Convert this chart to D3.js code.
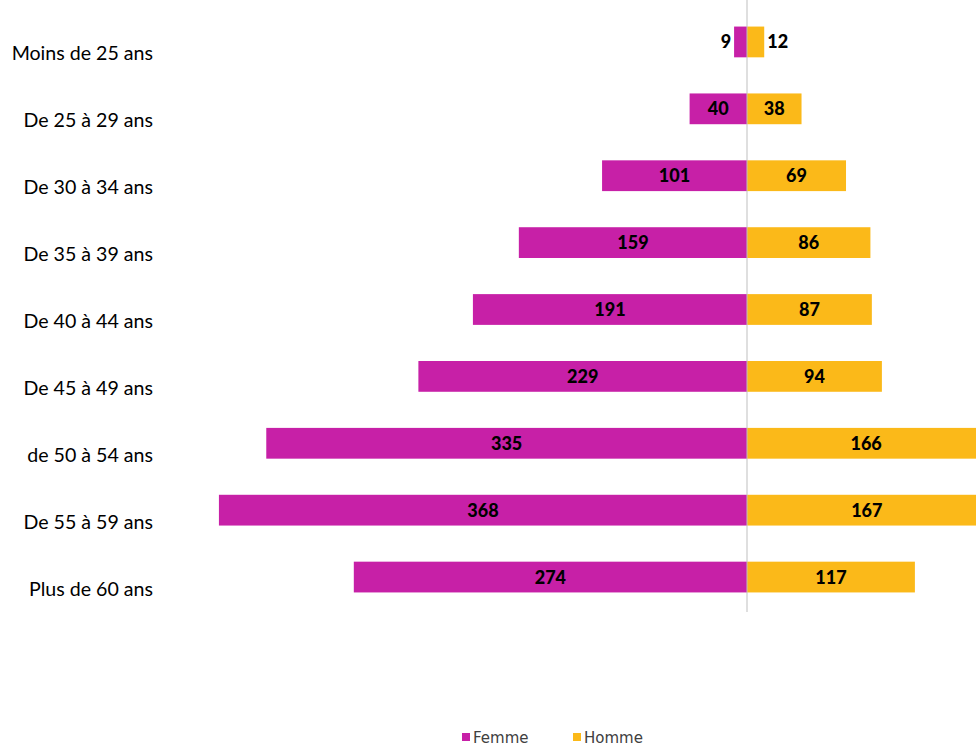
<!DOCTYPE html>
<meta charset="utf-8" />
<style>
  body { margin: 0; background: #fff; }
  .cat { font-family: Lato, "Liberation Sans", sans-serif; font-size: 19.6px; fill: #000; }
  .val { font-family: Lato, "Liberation Sans", sans-serif; font-size: 18px; font-weight: 900; fill: #000; }
  .leg { font-family: "DejaVu Sans", sans-serif; font-size: 15px; fill: #404040; }
</style>
<body>
<script src="https://d3js.org/d3.v7.min.js"></script>
<script>

// data
var categories = ["Moins de 25 ans", "De 25 à 29 ans", "De 30 à 34 ans", "De 35 à 39 ans",
  "De 40 à 44 ans", "De 45 à 49 ans", "de 50 à 54 ans", "De 55 à 59 ans", "Plus de 60 ans"];
var femme = [9, 40, 101, 159, 191, 229, 335, 368, 274];
var homme = [12, 38, 69, 86, 87, 94, 166, 167, 117];
var seriesNames = ["Femme", "Homme"];
var colors = ["#C720A7", "#FBB919"];

var width = 976, height = 745;

var svg = d3.select("body").append("svg")
    .attr("width", width)
    .attr("height", height);

// scales
var x = d3.scaleLinear().domain([-400, 200]).range([173, 1034]);
var y = d3.scaleBand().domain(categories)
    .range([8.5, 610.5])
    .paddingInner(0.54)
    .paddingOuter(0.27);

var rows = categories.map(function(c, i) {
  return {cat: c, f: femme[i], h: homme[i]};
});

// femme bars (left)
svg.selectAll(".bf").data(rows).enter().append("rect")
    .attr("x", function(d) { return x(-d.f); })
    .attr("y", function(d) { return y(d.cat); })
    .attr("width", function(d) { return x(0) - x(-d.f); })
    .attr("height", y.bandwidth())
    .attr("fill", colors[0]);

// homme bars (right)
svg.selectAll(".bh").data(rows).enter().append("rect")
    .attr("x", x(0))
    .attr("y", function(d) { return y(d.cat); })
    .attr("width", function(d) { return x(d.h) - x(0); })
    .attr("height", y.bandwidth())
    .attr("fill", colors[1]);

// center axis
svg.append("line")
    .attr("x1", x(0)).attr("x2", x(0))
    .attr("y1", 0).attr("y2", 612)
    .attr("stroke", "#BFBFBF")
    .attr("stroke-width", 1);

// value labels
function addLabels(key, sign) {
  svg.selectAll(".l" + key).data(rows).enter().append("text")
      .attr("class", "val")
      .attr("dy", "0.36em")
      .attr("y", function(d) { return y(d.cat) + y.bandwidth() / 2; })
      .attr("x", function(d) {
        var w = Math.abs(x(sign * d[key]) - x(0));
        if (w < 30) return x(sign * d[key]) + sign * 3;
        return (x(sign * d[key]) + x(0)) / 2;
      })
      .attr("text-anchor", function(d) {
        var w = Math.abs(x(sign * d[key]) - x(0));
        if (w < 30) return sign < 0 ? "end" : "start";
        return "middle";
      })
      .text(function(d) { return d[key]; });
}
addLabels("f", -1);
addLabels("h", 1);

// category labels
svg.selectAll(".cat").data(categories).enter().append("text")
    .attr("class", "cat")
    .attr("x", 153)
    .attr("y", function(d) { return y(d) + y.bandwidth() / 2 + 18.5; })
    .attr("text-anchor", "end")
    .text(function(d) { return d; });

// legend
var legX = [462, 573];
var leg = svg.selectAll(".legend").data(seriesNames).enter().append("g")
    .attr("transform", function(d, i) { return "translate(" + legX[i] + ",733)"; });
leg.append("rect").attr("width", 8).attr("height", 8)
    .attr("fill", function(d, i) { return colors[i]; });
leg.append("text").attr("class", "leg")
    .attr("x", 11).attr("y", 9.5)
    .text(function(d) { return d; });

</script>
</body>
